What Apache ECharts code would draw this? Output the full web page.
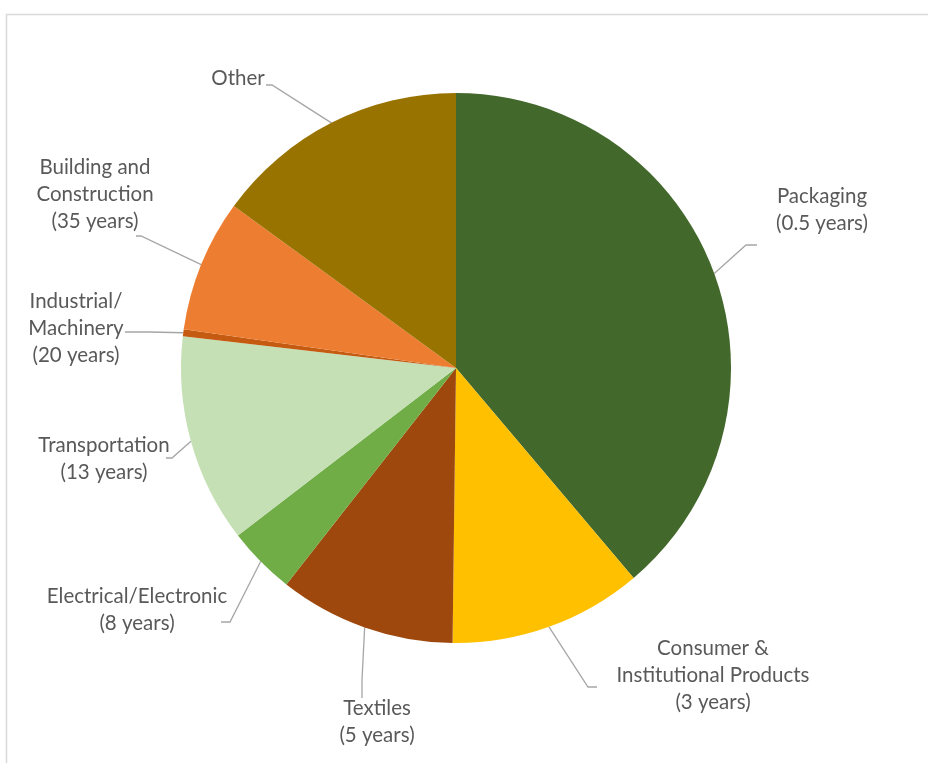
<!DOCTYPE html>
<html>
<head>
<meta charset="utf-8">
<script src="https://cdn.jsdelivr.net/npm/echarts@6/dist/echarts.min.js"></script>
<style>
  html, body { margin: 0; padding: 0; background: #fff; }
  #chart { width: 928px; height: 763px; }
</style>
</head>
<body>
<div id="chart"></div>
<script>
// Sectors in drawing order (clockwise from 12 o'clock)
const sectors = ['Packaging', 'Consumer & Institutional Products', 'Textiles',
  'Electrical/Electronic', 'Transportation', 'Industrial/Machinery',
  'Building and Construction', 'Other'];
// Label text as printed (with line breaks)
const labelNames = ['Packaging', 'Consumer &\nInstitutional Products', 'Textiles',
  'Electrical/Electronic', 'Transportation', 'Industrial/\nMachinery',
  'Building and\nConstruction', 'Other'];
// Typical product lifetime per sector
const lifetimes = ['0.5 years', '3 years', '5 years', '8 years', '13 years', '20 years', '35 years', ''];
// Share of total (%)
const shares = [38.9, 11.4, 10.4, 4.0, 12.3, 0.4, 7.8, 15.0];
const colors = ['#43682B', '#FFC000', '#9E480E', '#70AD47', '#C5E0B4', '#C55A11', '#ED7D31', '#997300'];

// Label placement: text centre, then the leader's bend and end points
const labelPlacement = [
  { x: 822, y: 210, bend: [746, 245], end: [757, 245] },
  { x: 713, y: 675, bend: [588, 687], end: [597, 687] },
  { x: 377, y: 722, bend: [362, 680], end: [362, 698] },
  { x: 137, y: 610, bend: [230, 622], end: [221, 622] },
  { x: 104, y: 459, bend: [172, 458], end: [166, 458] },
  { x: 76,  y: 328, bend: [150, 332], end: [125, 332] },
  { x: 95,  y: 194, bend: [141, 236], end: [136, 236] },
  { x: 238, y: 78,  bend: [272, 85],  end: [266, 85] }
];

const pieData = sectors.map((name, i) => ({
  name: name,
  value: shares[i],
  itemStyle: { color: colors[i] },
  label: { formatter: labelNames[i] + (lifetimes[i] ? '\n(' + lifetimes[i] + ')' : '') }
}));

const chart = echarts.init(document.getElementById('chart'), null, { renderer: 'canvas' });
chart.setOption({
  animation: false,
  backgroundColor: '#ffffff',
  graphic: [{
    type: 'rect',
    shape: { x: 6.5, y: 14.5, width: 1000, height: 1000 },
    style: { fill: 'none', stroke: '#d9d9d9', lineWidth: 1.5 },
    silent: true
  }],
  series: [{
    type: 'pie',
    center: [456, 368],
    radius: 275,
    startAngle: 90,
    clockwise: true,
    avoidLabelOverlap: false,
    data: pieData,
    itemStyle: { borderWidth: 0 },
    label: {
      show: true,
      position: 'outside',
      color: '#595959',
      fontFamily: 'Lato, "Open Sans", sans-serif',
      fontSize: 20.5,
      lineHeight: 27,
      align: 'center'
    },
    labelLine: {
      show: true,
      length: 10,
      length2: 10,
      smooth: false,
      lineStyle: { color: '#a6a6a6', width: 1.3 }
    },
    labelLayout: function (params) {
      const p = labelPlacement[params.dataIndex];
      const pts = params.labelLinePoints;
      const start = pts && pts[0] ? pts[0] : p.bend;
      return {
        x: p.x,
        y: p.y,
        align: 'center',
        verticalAlign: 'middle',
        labelLinePoints: [start, p.bend, p.end]
      };
    },
    emphasis: { disabled: true }
  }]
});
</script>
</body>
</html>
